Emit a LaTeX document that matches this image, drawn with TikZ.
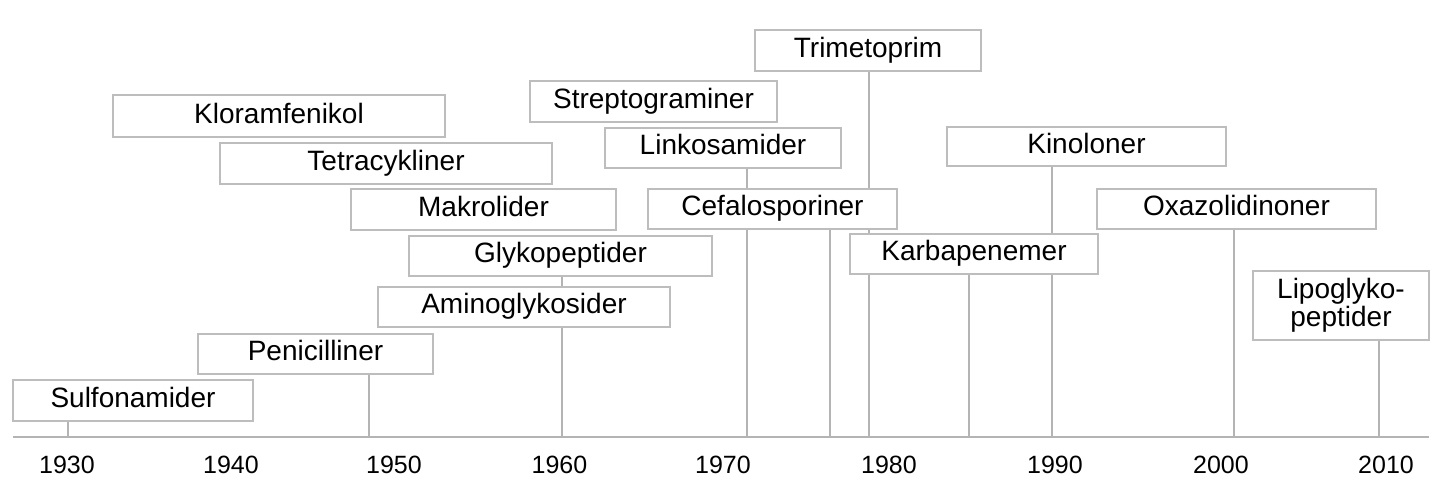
\documentclass[tikz,border=0pt]{standalone}
\usepackage{fontspec}
\setmainfont{Liberation Sans}
\usepackage{xcolor}
\usetikzlibrary{positioning, backgrounds}
\definecolor{LineGray}{HTML}{B4B4B4}
\definecolor{BoxGray}{HTML}{BDBDBD}
\definecolor{TextBlack}{HTML}{000000}
\tikzset{
    % class boxes - sharp corners, white fill over the stems
    classbox/.style={
        rectangle,
        draw=BoxGray,
        fill=white,
        line width=1pt,
        inner sep=0pt,
        minimum height=20pt,
        text height=0.76em,
        text depth=0.1em,
        align=center,
        text=TextBlack,
        font=\fontsize{14}{14}\selectfont
    },
    twolinebox/.style={
        rectangle,
        draw=BoxGray,
        fill=white,
        line width=1pt,
        inner sep=0pt,
        align=center,
        text=TextBlack,
        font=\fontsize{14}{14}\selectfont
    },
    yearlabel/.style={
        inner sep=0pt,
        text=TextBlack,
        font=\fontsize{12.5}{14}\selectfont
    },
    % lines
    axisline/.style={
        line width=1pt,
        draw=LineGray
    },
    stem/.style={
        line width=1pt,
        draw=LineGray
    }
}

\begin{document}
\begin{tikzpicture}[x=0.5pt, y=-0.5pt]
    \useasboundingbox (0,0) rectangle (1448,497);

    % boxes
    \node[classbox, minimum width=120pt, minimum height=20.5pt] (sulfa) at (133,400.5) {Sulfonamider};
    \node[classbox, minimum width=117.5pt] (peni) at (315.5,354) {Penicilliner};
    \node[classbox, minimum width=146pt] (amino) at (524,307) {Aminoglykosider};
    \node[classbox, minimum width=151.5pt] (glyko) at (560.5,256) {Glykopeptider};
    \node[classbox, minimum width=132.5pt, minimum height=20.5pt] (makro) at (483.5,209.5) {Makrolider};
    \node[classbox, minimum width=166pt, minimum height=20.5pt] (tetra) at (386,163.5) {Tetracykliner};
    \node[classbox, minimum width=166pt, minimum height=21pt] (klor) at (279,116.5) {Kloramfenikol};
    \node[classbox, minimum width=123.5pt, minimum height=20.5pt] (strep) at (653.5,101.5) {Streptograminer};
    \node[classbox, minimum width=118pt] (linko) at (723,148) {Linkosamider};
    \node[classbox, minimum width=113pt, minimum height=20.5pt] (trime) at (868,50.5) {Trimetoprim};
    \node[classbox, minimum width=124.5pt] (cefa) at (772.5,209) {Cefalosporiner};
    \node[classbox, minimum width=124pt] (karba) at (974,254) {Karbapenemer};
    \node[classbox, minimum width=139.5pt, minimum height=19.5pt] (kino) at (1086.5,146.5) {Kinoloner};
    \node[classbox, minimum width=139.5pt] (oxa) at (1236.5,209) {Oxazolidinoner};
    \node[twolinebox, minimum width=88pt, minimum height=34.5pt] (lipo) at (1341,305.5) {Lipoglyko-\\peptider};

    % time axis
    \coordinate (axL) at (13,437);
    \coordinate (axR) at (1429,437);
    \coordinate (tSulfa) at (68,437);
    \coordinate (tPeni) at (369,437);
    \coordinate (tGlyko) at (562,437);
    \coordinate (tLinko) at (747,437);
    \coordinate (tCefa) at (830,437);
    \coordinate (tTrime) at (869,437);
    \coordinate (tKarba) at (969,437);
    \coordinate (tKino) at (1052,437);
    \coordinate (tOxa) at (1234,437);
    \coordinate (tLipo) at (1379,437);

    \begin{scope}[on background layer]
        \draw[axisline] (axL) -- (axR);
        \draw[stem] (sulfa.south -| tSulfa) -- (tSulfa);
        \draw[stem] (peni.south -| tPeni) -- (tPeni);
        \draw[stem] (glyko.south -| tGlyko) -- (tGlyko);
        \draw[stem] (linko.south -| tLinko) -- (tLinko);
        \draw[stem] (cefa.south -| tCefa) -- (tCefa);
        \draw[stem] (trime.south -| tTrime) -- (tTrime);
        \draw[stem] (karba.south -| tKarba) -- (tKarba);
        \draw[stem] (kino.south -| tKino) -- (tKino);
        \draw[stem] (oxa.south -| tOxa) -- (tOxa);
        \draw[stem] (lipo.south -| tLipo) -- (tLipo);
    \end{scope}

    % years
    \foreach \yr/\xx in {1930/67, 1940/231, 1950/394, 1960/559.5, 1970/723, 1980/889, 1990/1055, 2000/1221, 2010/1386}
        \node[yearlabel] (y\yr) at (\xx,465) {\yr};
\end{tikzpicture}
\end{document}
